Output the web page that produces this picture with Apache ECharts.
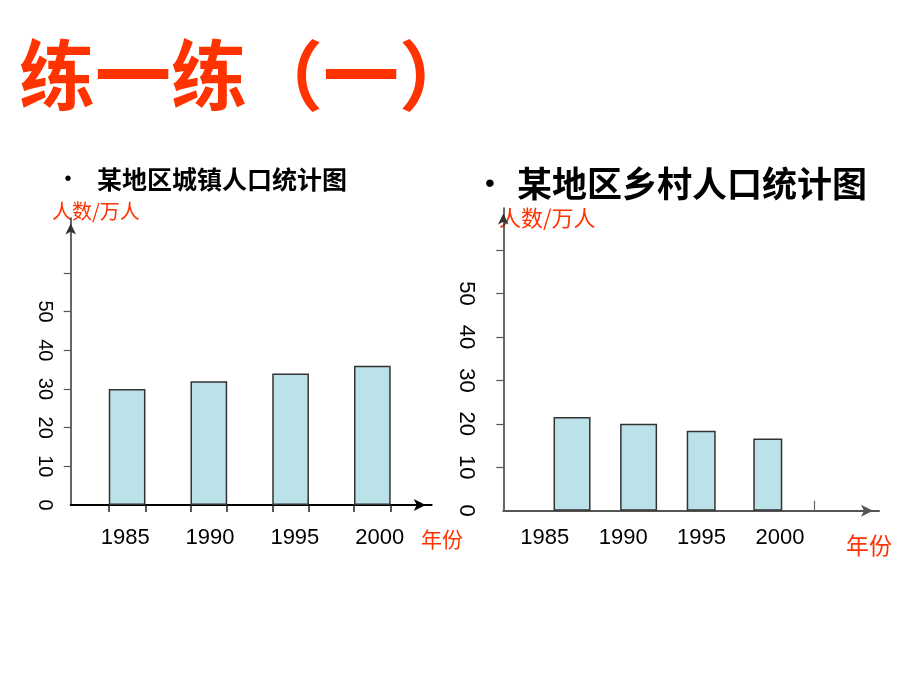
<!DOCTYPE html>
<html>
<head>
<meta charset="utf-8">
<script src="https://cdn.jsdelivr.net/npm/echarts@6/dist/echarts.min.js"></script>
<style>html,body{margin:0;padding:0;background:#fff}#c{width:920px;height:690px}</style>
</head>
<body>
<div id="c"></div>
<script>
// ---- data ----
const years = [1985, 1990, 1995, 2000];
const urbanValues = [30, 32, 34, 36];
const ruralValues = [21.6, 20.0, 18.4, 16.6];
const yTickValues = [10, 20, 30, 40, 50, 60];
const yLabelValues = [0, 10, 20, 30, 40, 50];
const pageTitle = '练一练（一）';
const urbanTitle = '某地区城镇人口统计图';
const ruralTitle = '某地区乡村人口统计图';
const yName = '人数/万人';
const xName = '年份';

// ---- layout ----
const RED = '#FF3300';
const CJK = '"Noto Sans CJK SC", sans-serif';
const LAT = '"Liberation Sans", Arial, sans-serif';
const L = {left: 70.7, right: 431.7, top: 218, bottom: 505};
const R = {left: 503.3, right: 879, top: 208, bottom: 510.7};
const LbarAxis = {min: 1981.55, max: 2003.63};
const LlabAxis = {min: 1981.78, max: 2003.07};
const RbarAxis = {min: 1980.14, max: 2008.35};
const RlabAxis = {min: 1982.36, max: 2006.31};
const leftBarW = 36.7;
const pxPerYearL = (L.right - L.left) / (LbarAxis.max - LbarAxis.min);
const halfYrL = leftBarW / 2 / pxPerYearL;
const leftEdgeTicks = [];
years.forEach(y => { leftEdgeTicks.push(y - halfYrL, y + halfYrL); });

const fmt = v => String(Math.round(v));
function barAxis(grid, range, lineColor, tickOpt) {
  return {
    type: 'value', gridIndex: grid, position: 'bottom', min: range.min, max: range.max,
    splitLine: {show: false},
    axisLine: {show: true, onZero: false, lineStyle: {color: lineColor, width: 2},
      symbol: ['none', 'arrow'], symbolSize: [9, 12], symbolOffset: [0, -6]},
    axisTick: tickOpt,
    axisLabel: {show: false}
  };
}
function labelAxis(grid, range, margin) {
  return {
    type: 'value', gridIndex: grid, position: 'bottom', min: range.min, max: range.max,
    splitLine: {show: false}, axisLine: {show: false}, axisTick: {show: false},
    axisLabel: {show: true, customValues: years, formatter: fmt, margin: margin,
      color: '#000', fontSize: 22, fontFamily: LAT}
  };
}
function yAxis(grid, max, fontSize, margin) {
  return {
    type: 'value', gridIndex: grid, min: 0, max: max,
    splitLine: {show: false},
    axisLine: {show: true, lineStyle: {color: '#333', width: 1.5},
      symbol: ['none', 'arrow'], symbolSize: [8, 11], symbolOffset: [0, -5.5]},
    axisTick: {show: true, customValues: yTickValues, length: 7, lineStyle: {color: '#555', width: 1.2}},
    axisLabel: {show: true, customValues: yLabelValues, formatter: fmt, rotate: -90,
      margin: margin, color: '#000', fontSize: fontSize, fontFamily: LAT}
  };
}
const barStyle = {color: '#BAE2E8', borderColor: '#333', borderWidth: 1.5};

const option = {
  animation: false,
  backgroundColor: '#fff',
  grid: [
    {left: L.left, top: L.top, width: L.right - L.left, height: L.bottom - L.top},
    {left: R.left, top: R.top, width: R.right - R.left, height: R.bottom - R.top}
  ],
  xAxis: [
    barAxis(0, LbarAxis, '#000', {show: true, customValues: leftEdgeTicks, length: 7, inside: false, lineStyle: {color: '#222', width: 1.5}}),
    labelAxis(0, LlabAxis, 22),
    barAxis(1, RbarAxis, '#555', {show: true, customValues: [2003.5], length: 10, inside: true, lineStyle: {color: '#666', width: 1.2}}),
    labelAxis(1, RlabAxis, 16)
  ],
  yAxis: [
    yAxis(0, 74.2, 20, 16),
    yAxis(1, 69.7, 22, 26)
  ],
  series: [
    {type: 'bar', xAxisIndex: 0, yAxisIndex: 0, barWidth: leftBarW,
      data: years.map((y, i) => [y, urbanValues[i]]), itemStyle: barStyle},
    {type: 'bar', xAxisIndex: 2, yAxisIndex: 1, barWidth: 37, barGap: '-100%',
      data: years.slice(0, 2).map((y, i) => [y, ruralValues[i]]), itemStyle: barStyle},
    {type: 'bar', xAxisIndex: 2, yAxisIndex: 1, barWidth: 29, barGap: '-100%',
      data: years.slice(2).map((y, i) => [y, ruralValues[i + 2]]), itemStyle: barStyle}
  ],
  graphic: [
    {type: 'text', x: 19, y: 75, style: {text: pageTitle, fill: RED, font: 'bold 76px ' + CJK, textAlign: 'left', textVerticalAlign: 'middle'}},
    {type: 'text', x: 68, y: 179, style: {text: '•', fill: '#000', font: '20px ' + LAT, textAlign: 'center', textVerticalAlign: 'middle'}},
    {type: 'text', x: 97, y: 179, style: {text: urbanTitle, fill: '#000', font: 'bold 25px ' + CJK, textAlign: 'left', textVerticalAlign: 'middle'}},
    {type: 'text', x: 490, y: 184, style: {text: '•', fill: '#000', font: '28px ' + LAT, textAlign: 'center', textVerticalAlign: 'middle'}},
    {type: 'text', x: 517, y: 184, style: {text: ruralTitle, fill: '#000', font: 'bold 35px ' + CJK, textAlign: 'left', textVerticalAlign: 'middle'}},
    {type: 'text', x: 52, y: 211, style: {text: yName, fill: RED, font: '20px ' + CJK, textAlign: 'left', textVerticalAlign: 'middle'}},
    {type: 'text', x: 499, y: 218, style: {text: yName, fill: RED, font: '22px ' + CJK, textAlign: 'left', textVerticalAlign: 'middle'}},
    {type: 'text', x: 421, y: 539, style: {text: xName, fill: RED, font: '21px ' + CJK, textAlign: 'left', textVerticalAlign: 'middle'}},
    {type: 'text', x: 846, y: 545, style: {text: xName, fill: RED, font: '23px ' + CJK, textAlign: 'left', textVerticalAlign: 'middle'}}
  ]
};
const chart = echarts.init(document.getElementById('c'), null, {renderer: 'canvas'});
chart.setOption(option);
</script>
</body>
</html>
